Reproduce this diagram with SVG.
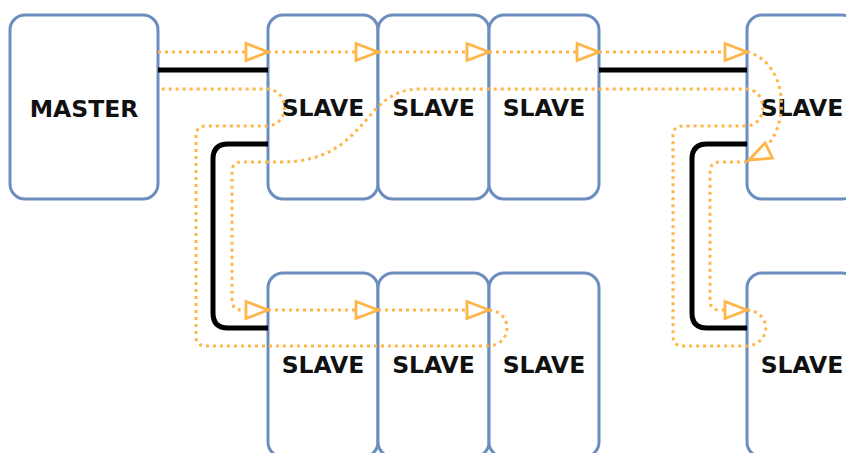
<svg xmlns="http://www.w3.org/2000/svg" width="846" height="453" viewBox="0 0 846 453">
  <style>
    .box { fill: #ffffff; stroke: #6c8ebf; stroke-width: 3; }
    .lbl { font-family: "DejaVu Sans", sans-serif; font-weight: bold; font-size: 23.5px; fill: #111111; text-anchor: middle; }
    .bus { fill: none; stroke: #000000; stroke-width: 5; }
    .sig { fill: none; stroke: #ffb547; stroke-width: 3; stroke-dasharray: 3 4; }
    .arr { marker-end: url(#tri); }
  </style>
  <defs>
    <marker id="tri" markerUnits="userSpaceOnUse" viewBox="0 0 26 22" markerWidth="26" markerHeight="22" refX="24" refY="11" orient="auto">
      <path d="M2,2.5 L24,11 L2,19.5 Z" fill="#ffffff" stroke="#ffb547" stroke-width="2.8" stroke-linejoin="miter"/>
    </marker>
  </defs>

  <g id="master">
    <rect class="box" x="10" y="15" width="148" height="184" rx="15"/>
    <text class="lbl" x="84" y="117">MASTER</text>
  </g>
  <g id="slave-t1">
    <rect class="box" x="268" y="15" width="110" height="184" rx="15"/>
    <text class="lbl" x="323" y="116">SLAVE</text>
  </g>
  <g id="slave-t2">
    <rect class="box" x="378" y="15" width="111" height="184" rx="15"/>
    <text class="lbl" x="433.5" y="116">SLAVE</text>
  </g>
  <g id="slave-t3">
    <rect class="box" x="489" y="15" width="110" height="184" rx="15"/>
    <text class="lbl" x="544" y="116">SLAVE</text>
  </g>
  <g id="slave-t4">
    <rect class="box" x="747" y="15" width="110" height="184" rx="15"/>
    <text class="lbl" x="802" y="116">SLAVE</text>
  </g>
  <g id="slave-b1">
    <rect class="box" x="268" y="273" width="110" height="184" rx="15"/>
    <text class="lbl" x="323" y="373">SLAVE</text>
  </g>
  <g id="slave-b2">
    <rect class="box" x="378" y="273" width="111" height="184" rx="15"/>
    <text class="lbl" x="433.5" y="373">SLAVE</text>
  </g>
  <g id="slave-b3">
    <rect class="box" x="489" y="273" width="110" height="184" rx="15"/>
    <text class="lbl" x="544" y="373">SLAVE</text>
  </g>
  <g id="slave-b4">
    <rect class="box" x="747" y="273" width="110" height="184" rx="15"/>
    <text class="lbl" x="802" y="373">SLAVE</text>
  </g>

  <g id="connectors">
    <!-- bus wiring -->
    <path class="bus" d="M158,70 H268"/>
    <path class="bus" d="M599,70 H747"/>
    <path class="bus" d="M268,144 H228 Q213,144 213,159 V313 Q213,328 228,328 H268"/>
    <path class="bus" d="M747,144 H707 Q692,144 692,159 V313 Q692,328 707,328 H747"/>

    <!-- forward signal chain -->
    <path class="sig arr" d="M158,52 H268"/>
    <path class="sig arr" d="M268,52 H378"/>
    <path class="sig arr" d="M378,52 H489"/>
    <path class="sig arr" d="M489,52 H599"/>
    <path class="sig arr" d="M599,52 H747"/>
    <path class="sig arr" d="M747,52 C790,62 795,138 749,160"/>
    <path class="sig arr" d="M747,162 H720 Q710,162 710,172 V300 Q710,310 720,310 H747"/>
    <path class="sig arr" d="M268,162 H242 Q232,162 232,172 V300 Q232,310 242,310 H268"/>
    <path class="sig arr" d="M268,310 H378"/>
    <path class="sig arr" d="M378,310 H489"/>

    <!-- return signal chain -->
    <path class="sig" d="M747,310 C772,312 772,344 747,346 H683 Q673,346 673,336 V136 Q673,126 683,126 H747 C768,124 768,91 747,89 H420 C360,89 370,162 280,162 H268"/>
    <path class="sig" d="M489,310 C513,312 513,344 489,346 H206 Q196,346 196,336 V136 Q196,126 206,126 H268 C290,124 290,91 268,89 H158"/>
  </g>
</svg>
